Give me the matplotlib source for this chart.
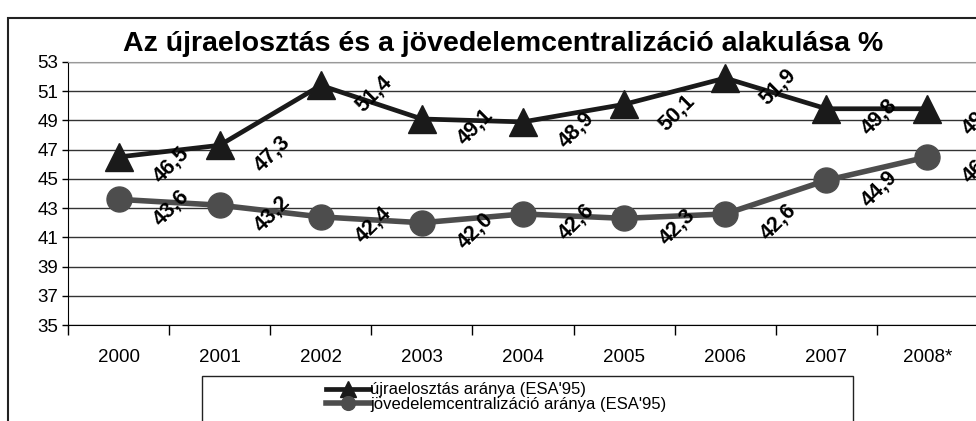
import numpy as np
import matplotlib.pyplot as plt
from matplotlib.patches import Rectangle

plt.rcParams['font.family'] = ['Liberation Sans', 'DejaVu Sans']

years = ['2000', '2001', '2002', '2003', '2004', '2005', '2006', '2007', '2008*']
ujraelosztas = [46.5, 47.3, 51.4, 49.1, 48.9, 50.1, 51.9, 49.8, 49.8]
jovedelem = [43.6, 43.2, 42.4, 42.0, 42.6, 42.3, 42.6, 44.9, 46.5]
yticks = [35, 37, 39, 41, 43, 45, 47, 49, 51, 53]

title = 'Az újraelosztás és a jövedelemcentralizáció alakulása %'
label1 = "újraelosztás aránya (ESA'95)"
label2 = "jövedelemcentralizáció aránya (ESA'95)"


def main():
    fig = plt.figure(figsize=(9.76, 4.21), dpi=100)
    ax = fig.add_axes([68 / 976, 96 / 421, 910 / 976, 263 / 421])

    x = np.arange(len(years))
    l1, = ax.plot(x, ujraelosztas, color='#1a1a1a', lw=3.4, marker='^',
                  markersize=20, zorder=3, clip_on=False)
    l2, = ax.plot(x, jovedelem, color='#4d4d4d', lw=4, marker='o',
                  markersize=18, zorder=3, clip_on=False)

    for series in (ujraelosztas, jovedelem):
        for xi, v in zip(x, series):
            ax.annotate(f'{v:.1f}'.replace('.', ','), (xi, v),
                        xytext=(38, -6), textcoords='offset points',
                        ha='center', va='center', rotation=45,
                        fontsize=15.5, fontweight='bold', color='black',
                        annotation_clip=False, zorder=4)

    ax.set_xlim(-0.5, 8.5)
    ax.set_ylim(35, 53)
    ax.set_yticks(yticks)
    ax.set_yticklabels([str(t) for t in yticks], fontsize=13.5)
    ax.grid(axis='y', color='#333333', lw=1)
    ax.set_axisbelow(True)

    ax.set_xticks(x)
    ax.set_xticklabels(years, fontsize=13.5)
    ax.set_xticks(np.arange(-0.5, 9, 1), minor=True)
    ax.tick_params(axis='x', which='major', length=0, pad=17)
    ax.tick_params(axis='x', which='minor', length=7, width=1, color='black')
    ax.tick_params(axis='y', length=4, width=1, pad=3)

    ax.spines['left'].set_color('black')
    ax.spines['bottom'].set_color('black')
    ax.spines['top'].set_color('#999999')
    ax.spines['right'].set_visible(False)

    fig.text(503 / 976, 1 - 44 / 421, title, ha='center', va='center',
             fontsize=20.5, fontweight='bold')

    # outer chart frame
    fig.patches.append(Rectangle((8 / 976, -0.1), 1.0, 1 - 18 / 421 + 0.1,
                                 transform=fig.transFigure, fill=False,
                                 ec='#222222', lw=1.5))
    # legend frame
    fig.patches.append(Rectangle((202 / 976, -0.1), 651 / 976,
                                 0.1 + (421 - 376) / 421,
                                 transform=fig.transFigure, fill=False,
                                 ec='#222222', lw=1))
    fig.legend([l1, l2], [label1, label2], loc='center left',
               bbox_to_anchor=(318 / 976, 1 - 397 / 421), frameon=False,
               fontsize=12, labelspacing=-0.05, handlelength=2.6,
               handletextpad=0.05, markerscale=0.55, borderpad=0)

    fig.savefig('out.png', dpi=100)


if __name__ == '__main__':
    main()
